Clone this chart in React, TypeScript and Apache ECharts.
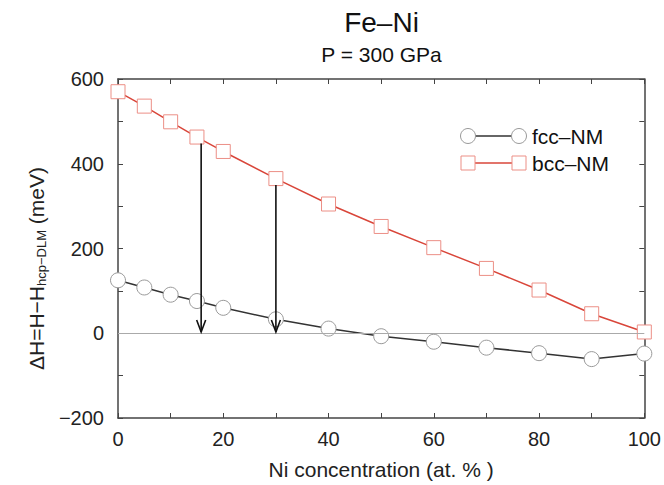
import React, { useEffect, useRef } from "react";
import * as echarts from "echarts";

const niConc = [0, 5, 10, 15, 20, 30, 40, 50, 60, 70, 80, 90, 100];
const fccNM = [125, 108, 91, 76, 60, 33, 11, -7, -20, -34, -47, -61, -48];
const bccNM = [570, 536, 499, 463, 429, 365, 305, 252, 202, 153, 102, 46, 3];
const arrowX = [15.8, 30];
const arrowFrom = [448, 350];
const arrowTo = [3, 3];

const FONT = '"Liberation Sans", Arial, Helvetica, sans-serif';

export default function App() {
  const ref = useRef<HTMLDivElement>(null);
  useEffect(() => {
    const chart = echarts.init(ref.current!, null, { renderer: "svg" });
    const axisLine = { show: true, onZero: false, lineStyle: { color: "#444", width: 1.5 } };
    const axisTick = { show: true, inside: true, length: 5, lineStyle: { color: "#444", width: 1 } };
    chart.setOption({
      animation: false,
      backgroundColor: "#fff",
      grid: { left: 118, right: 19, top: 79, bottom: 62, containLabel: false },
      xAxis: [
        {
          type: "value", min: 0, max: 100, interval: 10, position: "bottom",
          axisLine, axisTick, splitLine: { show: false },
          axisLabel: {
            formatter: (v: number) => (v % 20 === 0 ? String(v) : ""),
            fontSize: 20, color: "#222", margin: 11, fontFamily: FONT,
          },
          name: "Ni concentration (at. % )", nameLocation: "middle", nameGap: 41,
          nameTextStyle: { fontSize: 21, color: "#222", fontFamily: FONT },
        },
        {
          type: "value", min: 0, max: 100, interval: 10, position: "top",
          axisLine, axisTick, splitLine: { show: false }, axisLabel: { show: false },
        },
      ],
      yAxis: [
        {
          type: "value", min: -200, max: 600, interval: 100, position: "left",
          axisLine, axisTick, splitLine: { show: false },
          axisLabel: {
            formatter: (v: number) => (v % 200 === 0 ? String(v).replace("-", "\u2212") : ""),
            fontSize: 20, color: "#222", margin: 14, fontFamily: FONT,
          },
          name: "\u0394H=H\u2212H{sub|hcp\u2212DLM} (meV)", nameLocation: "middle", nameGap: 70,
          nameTextStyle: {
            fontSize: 21, color: "#222", fontFamily: FONT, padding: [0, 40, 0, 0],
            rich: { sub: { fontSize: 13, color: "#222", fontFamily: FONT, padding: [10, 0, 0, 0], verticalAlign: "bottom" } },
          },
        },
        {
          type: "value", min: -200, max: 600, interval: 100, position: "right",
          axisLine, axisTick, splitLine: { show: false }, axisLabel: { show: false },
        },
      ],
      series: [
        {
          name: "fcc-NM", type: "line", xAxisIndex: 0, yAxisIndex: 0,
          data: niConc.map((x, i) => [x, fccNM[i]]),
          symbol: "circle", symbolSize: 15,
          lineStyle: { color: "#333", width: 1.5 },
          itemStyle: { color: "#fff", borderColor: "#999", borderWidth: 1 },
          z: 3,
          markLine: {
            silent: true, symbol: "none", label: { show: false },
            lineStyle: { color: "#aaa", width: 1, type: "solid" },
            data: [{ yAxis: 0 }],
          },
        },
        {
          name: "bcc-NM", type: "line", xAxisIndex: 0, yAxisIndex: 0,
          data: niConc.map((x, i) => [x, bccNM[i]]),
          symbol: "rect", symbolSize: 14,
          lineStyle: { color: "#d9463a", width: 1.5 },
          itemStyle: { color: "#fff", borderColor: "#ec8f86", borderWidth: 1 },
          z: 3,
        },
        {
          type: "custom", xAxisIndex: 0, yAxisIndex: 0, silent: true, z: 10,
          data: arrowX.map((x, i) => [x, arrowFrom[i], arrowTo[i]]),
          renderItem: (params: any, api: any) => {
            const p1 = api.coord([api.value(0), api.value(1)]);
            const p2 = api.coord([api.value(0), api.value(2)]);
            return {
              type: "group",
              children: [
                { type: "line", shape: { x1: p1[0], y1: p1[1], x2: p2[0], y2: p2[1] }, style: { stroke: "#111", lineWidth: 1.6 } },
                {
                  type: "polyline",
                  shape: { points: [[p2[0] - 4.5, p2[1] - 12], [p2[0], p2[1]], [p2[0] + 4.5, p2[1] - 12]] },
                  style: { stroke: "#111", lineWidth: 1.6, fill: null },
                },
              ],
            };
          },
        },
      ],
      graphic: [
        { type: "text", x: 381.5, y: 22, style: { text: "Fe\u2013Ni", fontSize: 28, fontFamily: FONT, fill: "#111", align: "center", verticalAlign: "middle" } },
        { type: "text", x: 381.5, y: 54, style: { text: "P = 300 GPa", fontSize: 21, fontFamily: FONT, fill: "#111", align: "center", verticalAlign: "middle" } },
        { type: "line", z: 1, shape: { x1: 468, y1: 136, x2: 519, y2: 136 }, style: { stroke: "#333", lineWidth: 1.5 } },
        { type: "circle", z: 2, shape: { cx: 468, cy: 136, r: 7.5 }, style: { fill: "#fff", stroke: "#999", lineWidth: 1 } },
        { type: "circle", z: 2, shape: { cx: 519, cy: 136, r: 7.5 }, style: { fill: "#fff", stroke: "#999", lineWidth: 1 } },
        { type: "text", x: 532, y: 136, style: { text: "fcc\u2013NM", fontSize: 21, fontFamily: FONT, fill: "#111", align: "left", verticalAlign: "middle" } },
        { type: "line", z: 1, shape: { x1: 468, y1: 163, x2: 519, y2: 163 }, style: { stroke: "#d9463a", lineWidth: 1.5 } },
        { type: "rect", z: 2, shape: { x: 461, y: 156, width: 14, height: 14 }, style: { fill: "#fff", stroke: "#ec8f86", lineWidth: 1 } },
        { type: "rect", z: 2, shape: { x: 512, y: 156, width: 14, height: 14 }, style: { fill: "#fff", stroke: "#ec8f86", lineWidth: 1 } },
        { type: "text", x: 532, y: 163, style: { text: "bcc\u2013NM", fontSize: 21, fontFamily: FONT, fill: "#111", align: "left", verticalAlign: "middle" } },
      ],
    });
    return () => chart.dispose();
  }, []);
  return <div ref={ref} style={{ position: "fixed", left: 0, top: 0, width: 664, height: 485 }} />;
}
